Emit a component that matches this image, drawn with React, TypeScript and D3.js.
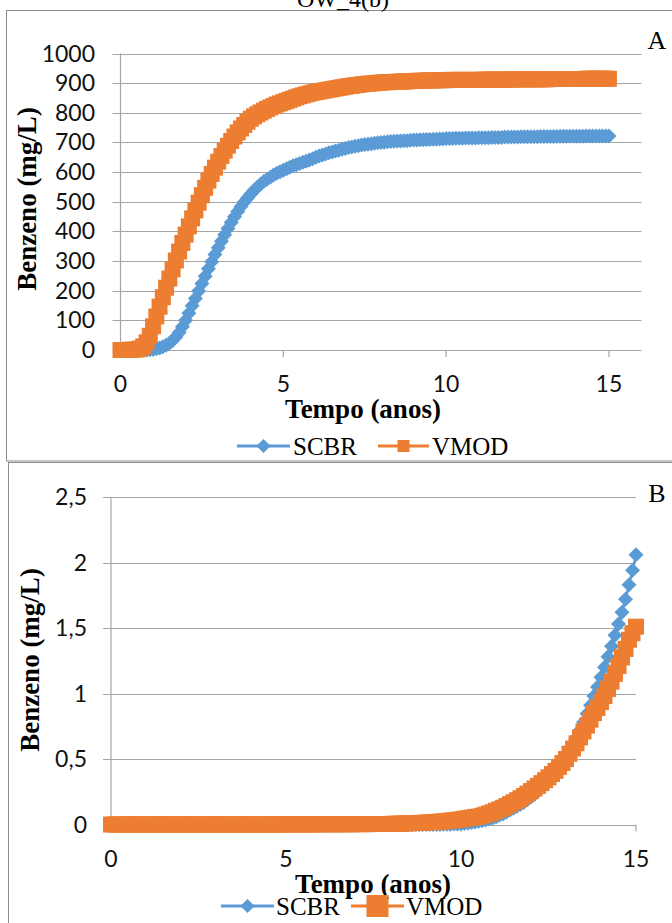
import { useEffect, useRef } from 'react';
import * as d3 from 'd3';

// time grid of the model output (one point every 0.1 year)
const years = d3.range(0, 151).map(i => i / 10);

const seriesNames = ['SCBR', 'VMOD'];
const seriesColors = ['#5B9BD5', '#ED7D31'];

// panel A, benzene (mg/L)
const scbrA = [
  0, 0, 0, 0, 0, 0, 0, 0, 0, 1,
  2, 4, 7, 11, 16, 23, 32, 44, 59, 78,
  100, 124, 149, 174, 199, 224, 249, 274, 298, 322,
  345, 367, 389, 410, 430, 449, 467, 484, 499, 513,
  526, 538, 549, 559, 568, 576, 583, 590, 596, 601,
  606, 611, 616, 621, 625, 629, 633, 637, 641, 645,
  650, 654, 658, 661, 665, 668, 671, 674, 677, 680,
  683, 685, 687, 689, 691, 693, 694, 696, 697, 699,
  700, 701, 702, 703, 704, 705, 705, 706, 706, 707,
  708, 708, 709, 709, 710, 710, 711, 711, 712, 712,
  713, 713, 713, 714, 714, 714, 715, 715, 715, 715,
  716, 716, 716, 716, 717, 717, 717, 717, 718, 718,
  718, 718, 718, 719, 719, 719, 719, 719, 719, 720,
  720, 720, 720, 720, 720, 721, 721, 721, 721, 721,
  721, 721, 721, 722, 722, 722, 722, 722, 722, 722,
  722,
];
const vmodA = [
  0, 0, 0, 1, 1, 2, 5, 12, 26, 48,
  80, 113, 146, 178, 210, 241, 272, 302, 332, 361,
  389, 417, 444, 471, 497, 522, 547, 571, 594, 615,
  635, 654, 672, 689, 705, 720, 734, 747, 759, 770,
  780, 788, 795, 801, 807, 813, 818, 823, 828, 832,
  836, 840, 844, 848, 852, 856, 859, 862, 865, 868,
  870, 872, 874, 876, 878, 880, 882, 884, 886, 888,
  890, 891, 893, 894, 896, 897, 898, 899, 900, 901,
  902, 903, 903, 904, 904, 905, 905, 906, 906, 907,
  907, 908, 908, 908, 909, 909, 909, 910, 910, 910,
  910, 911, 911, 911, 911, 911, 911, 911, 911, 911,
  911, 911, 912, 912, 912, 912, 912, 912, 912, 912,
  912, 913, 913, 913, 913, 913, 913, 913, 913, 913,
  913, 913, 914, 914, 914, 914, 914, 914, 914, 914,
  914, 914, 914, 915, 915, 915, 915, 915, 915, 915,
  915,
];

// panel B, benzene (mg/L)
const scbrB = [
  0, 0, 0, 0, 0, 0, 0, 0, 0, 0,
  0, 0, 0, 0, 0, 0, 0, 0, 0, 0,
  0, 0, 0, 0, 0, 0, 0, 0, 0, 0,
  0, 0, 0, 0, 0, 0, 0, 0, 0, 0,
  0, 0, 0, 0, 0, 0, 0, 0, 0, 0,
  0, 0, 0, 0, 0, 0, 0, 0, 0, 0,
  0, 0, 0, 0, 0, 0, 0, 0, 0, 0,
  0, 0, 0, 0, 0, 0, 0, 0, 0, 0,
  0, 0, 0, 0, 0, 0, 0, 0, 0, 0,
  0, 0, 0, 0, 0, 0.001, 0.001, 0.002, 0.003, 0.004,
  0.005, 0.008, 0.011, 0.015, 0.019, 0.024, 0.029, 0.035, 0.042, 0.05,
  0.058, 0.07, 0.08, 0.095, 0.11, 0.125, 0.14, 0.155, 0.17, 0.19,
  0.21, 0.23, 0.255, 0.28, 0.31, 0.34, 0.37, 0.4, 0.43, 0.465,
  0.5, 0.55, 0.605, 0.66, 0.72, 0.78, 0.845, 0.91, 0.98, 1.05,
  1.125, 1.2, 1.28, 1.36, 1.445, 1.53, 1.62, 1.72, 1.83, 1.94,
  2.06,
];
const vmodB = [
  0, 0, 0, 0, 0, 0, 0, 0, 0, 0,
  0, 0, 0, 0, 0, 0, 0, 0, 0, 0,
  0, 0, 0, 0, 0, 0, 0, 0, 0, 0,
  0, 0, 0, 0, 0, 0, 0, 0, 0, 0,
  0, 0, 0, 0, 0, 0, 0, 0, 0, 0,
  0.001, 0.001, 0.001, 0.001, 0.001, 0.001, 0.001, 0.001, 0.001, 0.001,
  0.002, 0.002, 0.002, 0.002, 0.002, 0.002, 0.002, 0.002, 0.002, 0.002,
  0.003, 0.003, 0.003, 0.003, 0.003, 0.004, 0.004, 0.004, 0.004, 0.004,
  0.005, 0.006, 0.006, 0.007, 0.008, 0.009, 0.01, 0.011, 0.012, 0.013,
  0.015, 0.016, 0.018, 0.02, 0.022, 0.024, 0.027, 0.03, 0.033, 0.036,
  0.04, 0.044, 0.048, 0.053, 0.058, 0.06, 0.067, 0.075, 0.084, 0.094,
  0.105, 0.116, 0.128, 0.141, 0.155, 0.17, 0.185, 0.201, 0.218, 0.236,
  0.255, 0.275, 0.295, 0.316, 0.338, 0.36, 0.385, 0.41, 0.44, 0.47,
  0.5, 0.54, 0.58, 0.62, 0.665, 0.71, 0.755, 0.8, 0.85, 0.89,
  0.935, 0.98, 1.035, 1.09, 1.15, 1.21, 1.275, 1.34, 1.41, 1.46,
  1.51,
];

const xTicks = [0, 5, 10, 15];
const yTicksA = [0, 100, 200, 300, 400, 500, 600, 700, 800, 900, 1000];
const yTicksB = [0, 0.5, 1, 1.5, 2, 2.5];

const tickFont = 'Lato, "Open Sans", sans-serif';
const serif = '"Liberation Serif", "Times New Roman", serif';
const gridColor = '#a6a6a6';

const panels = [
  {
    letter: 'A', letterX: 657, letterY: 49,
    data: [scbrA, vmodA],
    xDomain: [0, 16], xRange: [120.5, 641.5],
    yDomain: [0, 1000], yRange: [350, 53.5],
    yTicks: yTicksA, yLabelX: 95, xLabelY: 392,
    yTitle: [36, 199], xTitle: [363, 418],
    sizes: [15, 16],
    legendY: 446,
    legend: [
      { x1: 237, x2: 290, tx: 293, size: 14 },
      { x1: 378, x2: 429, tx: 432, size: 12 },
    ],
  },
  {
    letter: 'B', letterX: 657, letterY: 502,
    data: [scbrB, vmodB],
    xDomain: [0, 15], xRange: [111, 636],
    yDomain: [0, 2.5], yRange: [824.5, 497],
    yTicks: yTicksB, yLabelX: 87, xLabelY: 867,
    yTitle: [39, 660], xTitle: [373, 893],
    sizes: [15, 16],
    legendY: 906,
    legend: [
      { x1: 221, x2: 274, tx: 276, size: 14 },
      { x1: 351, x2: 404, tx: 406, size: 22 },
    ],
  },
];

const diamond = (s: number) => `M0,${-s / 2}L${s / 2},0L0,${s / 2}L${-s / 2},0Z`;
const square = (s: number) => `M${-s / 2},${-s / 2}h${s}v${s}h${-s}Z`;

const fmt = (v: number) => String(v).replace('.', ',');

const App = () => {
  const svgRef = useRef<SVGSVGElement>(null);

  useEffect(() => {
    const svg = d3.select(svgRef.current);
    svg.selectAll('*').remove();

    // panel frames
    svg.append('rect')
      .attr('x', 6.5).attr('y', 10.5).attr('width', 700).attr('height', 450.5)
      .attr('fill', 'none').attr('stroke', '#8c8c8c');
    svg.append('rect')
      .attr('x', 8.5).attr('y', 462.5).attr('width', 700).attr('height', 500)
      .attr('fill', 'none').attr('stroke', '#8c8c8c');

    // title cut by the top of the page
    svg.append('text')
      .attr('x', 343).attr('y', 7)
      .attr('text-anchor', 'middle')
      .style('font', `24px ${serif}`)
      .text('OW_4(b)');

    panels.forEach(p => {
      const g = svg.append('g');
      const x = d3.scaleLinear().domain(p.xDomain).range(p.xRange);
      const y = d3.scaleLinear().domain(p.yDomain).range(p.yRange);
      const [x0, x1] = p.xRange;
      const y0 = p.yRange[0];

      // gridlines with the outside tick
      g.selectAll('.grid')
        .data(p.yTicks)
        .join('line')
        .attr('x1', x0 - 8).attr('x2', x1)
        .attr('y1', d => Math.round(y(d)) + 0.5).attr('y2', d => Math.round(y(d)) + 0.5)
        .attr('stroke', gridColor).attr('stroke-width', 1.2);

      // y axis line
      g.append('line')
        .attr('x1', x0).attr('x2', x0)
        .attr('y1', y(p.yDomain[1])).attr('y2', y0)
        .attr('stroke', gridColor).attr('stroke-width', 1.2);

      // x ticks
      g.selectAll('.xt')
        .data(xTicks)
        .join('line')
        .attr('x1', d => x(d)).attr('x2', d => x(d))
        .attr('y1', y0).attr('y2', y0 + 7)
        .attr('stroke', gridColor).attr('stroke-width', 1.2);

      g.selectAll('.yl')
        .data(p.yTicks)
        .join('text')
        .attr('x', p.yLabelX).attr('y', d => y(d) + 8)
        .attr('text-anchor', 'end')
        .style('font', `23px ${tickFont}`)
        .attr('fill', '#111')
        .text(d => fmt(d));

      g.selectAll('.xl')
        .data(xTicks)
        .join('text')
        .attr('x', d => x(d)).attr('y', p.xLabelY)
        .attr('text-anchor', 'middle')
        .style('font', `23px ${tickFont}`)
        .attr('fill', '#111')
        .text(d => d);

      // axis titles
      g.append('text')
        .attr('transform', `translate(${p.yTitle[0]},${p.yTitle[1]}) rotate(-90)`)
        .attr('text-anchor', 'middle')
        .style('font', `bold 27px ${serif}`)
        .text('Benzeno (mg/L)');
      g.append('text')
        .attr('x', p.xTitle[0]).attr('y', p.xTitle[1])
        .attr('text-anchor', 'middle')
        .style('font', `bold 27px ${serif}`)
        .text('Tempo (anos)');

      g.append('text')
        .attr('x', p.letterX).attr('y', p.letterY)
        .attr('text-anchor', 'middle')
        .style('font', `26px ${serif}`)
        .text(p.letter);

      // series: line underneath, markers on top
      const line = d3.line<number>()
        .x((_, i) => x(years[i]))
        .y(d => y(d));

      p.data.forEach((values, si) => {
        const sg = g.append('g');
        sg.append('path')
          .attr('d', line(values))
          .attr('fill', 'none')
          .attr('stroke', seriesColors[si])
          .attr('stroke-width', 2.5);
        sg.selectAll('path.m')
          .data(values)
          .join('path')
          .attr('class', 'm')
          .attr('transform', (d, i) => `translate(${x(years[i])},${y(d)})`)
          .attr('d', si === 0 ? diamond(p.sizes[0]) : square(p.sizes[1]))
          .attr('fill', seriesColors[si]);
      });

      // legend
      p.legend.forEach((l, si) => {
        const cx = (l.x1 + l.x2) / 2;
        g.append('line')
          .attr('x1', l.x1).attr('x2', l.x2)
          .attr('y1', p.legendY).attr('y2', p.legendY)
          .attr('stroke', seriesColors[si]).attr('stroke-width', 3);
        g.append('path')
          .attr('transform', `translate(${cx},${p.legendY})`)
          .attr('d', si === 0 ? diamond(l.size) : square(l.size))
          .attr('fill', seriesColors[si]);
        g.append('text')
          .attr('x', l.tx).attr('y', p.legendY + 9)
          .style('font', `25px ${serif}`)
          .text(seriesNames[si]);
      });
    });
  }, []);

  return (
    <svg
      ref={svgRef}
      width={672}
      height={923}
      style={{ position: 'absolute', left: 0, top: 0, background: '#fff' }}
    />
  );
};

export default App;
